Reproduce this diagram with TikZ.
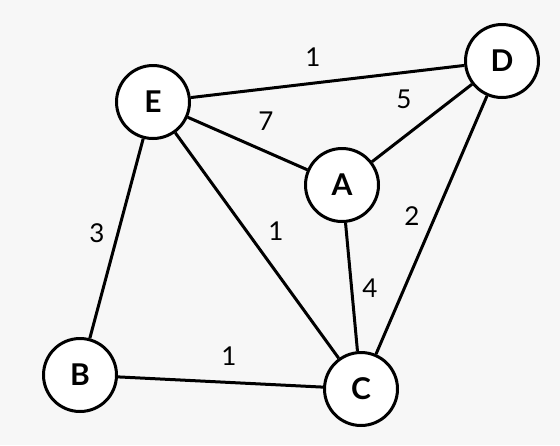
\documentclass[tikz,border=0pt]{standalone}
\usepackage{fontspec}
\setmainfont{Lato}
\definecolor{bgc}{RGB}{247,247,247}
\begin{document}
\begin{tikzpicture}[x=1pt,y=-1pt,
  vtx/.style={circle,draw=black,fill=white,line width=3pt,minimum size=73pt,inner sep=0pt,font=\fontsize{30}{30}\selectfont\bfseries},
  lbl/.style={inner sep=0pt,font=\fontsize{26}{26}\selectfont},
  edge/.style={line width=3pt}]
\fill[bgc] (0,0) rectangle (560,445);
\useasboundingbox (0,0) rectangle (560,445);
\node[vtx] (E) at (153,102) {E};
\node[vtx] (D) at (502,61) {D};
\node[vtx] (A) at (342,185) {A};
\node[vtx] (B) at (80,375) {B};
\node[vtx] (C) at (361,389) {C};
\draw[edge] (E) -- (D);
\draw[edge] (E) -- (A);
\draw[edge] (A) -- (D);
\draw[edge] (E) -- (C);
\draw[edge] (D) -- (C);
\draw[edge] (A) -- (C);
\draw[edge] (E) -- (B);
\draw[edge] (B) -- (C);
\node[lbl] (l1) at (313,57) {1};
\node[lbl] (l2) at (266,121) {7};
\node[lbl] (l3) at (404,99) {5};
\node[lbl] (l4) at (276,231) {1};
\node[lbl] (l5) at (412,216) {2};
\node[lbl] (l6) at (370,288) {4};
\node[lbl] (l7) at (97,233) {3};
\node[lbl] (l8) at (229,356) {1};
\end{tikzpicture}
\end{document}
